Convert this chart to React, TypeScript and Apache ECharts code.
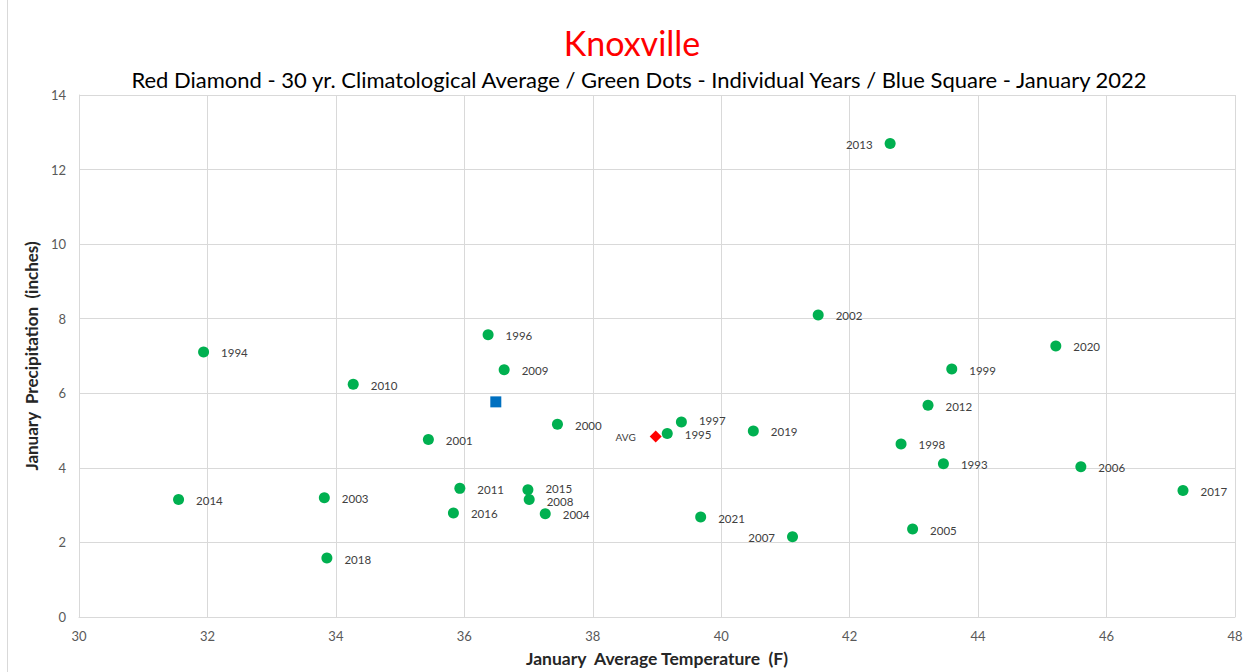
import React, { useEffect, useRef } from "react";
import * as echarts from "echarts";

const years = ["2013", "2002", "2020", "1999", "2012", "1998", "1993", "2006", "2017", "2005", "2007", "2021", "2019", "1997", "1995", "2000", "2009", "1996", "2001", "2010", "1994", "2014", "2003", "2018", "2011", "2016", "2015", "2008", "2004"];
const temps = [42.63, 41.51, 45.21, 43.59, 43.22, 42.80, 43.46, 45.60, 47.19, 42.98, 41.11, 39.68, 40.50, 39.38, 39.16, 37.45, 36.62, 36.37, 35.44, 34.27, 31.94, 31.55, 33.82, 33.86, 35.93, 35.83, 36.99, 37.01, 37.26];
const precips = [12.70, 8.10, 7.27, 6.65, 5.68, 4.64, 4.11, 4.03, 3.39, 2.36, 2.15, 2.68, 4.99, 5.23, 4.92, 5.17, 6.63, 7.57, 4.76, 6.24, 7.11, 3.15, 3.20, 1.58, 3.45, 2.79, 3.41, 3.15, 2.77];
const labelLeftYears = ["2013", "2007"];
const avgPoint = [38.98, 4.84];
const currentPoint = [36.49, 5.77];
const xTicks = { min: 30, max: 48, interval: 2 };
const yTicks = { min: 0, max: 14, interval: 2 };

export default function App() {
  const ref = useRef<HTMLDivElement>(null);
  useEffect(() => {
    document.body.style.margin = "0";
    const chart = echarts.init(ref.current!, undefined, { renderer: "svg" });
    const font = "Lato, 'Open Sans', sans-serif";
    const labelOffsets: Record<string, number[]> = {
      "2015": [0, -1],
      "2008": [0, 2],
      "1997": [0, -1],
      "1995": [0, 1],
    };
    const yearData = years.map((y, i) => ({
      value: [temps[i], precips[i]],
      name: y,
      label: {
        position: labelLeftYears.includes(y) ? "left" : "right",
        distance: 12,
        offset: labelOffsets[y] || [0, 1],
      },
    }));
    chart.setOption({
      animation: false,
      backgroundColor: "#ffffff",
      textStyle: { fontFamily: font },
      title: [
        {
          text: "Knoxville",
          left: 627,
          textAlign: "center",
          top: 20,
          textStyle: { color: "#ff0000", fontSize: 34, fontWeight: "normal", fontFamily: font },
        },
        {
          text: "Red Diamond - 30 yr. Climatological Average / Green Dots - Individual Years / Blue Square - January 2022",
          left: 634,
          textAlign: "center",
          top: 63,
          textStyle: { color: "#000000", fontSize: 22, fontWeight: "normal", fontFamily: font },
        },
      ],
      graphic: [
        {
          type: "line",
          shape: { x1: 7.5, y1: 0, x2: 7.5, y2: 672 },
          style: { stroke: "#d9d9d9", lineWidth: 1 },
        },
      ],
      grid: { left: 79, right: 16, top: 95, bottom: 52 },
      xAxis: {
        type: "value",
        min: xTicks.min,
        max: xTicks.max,
        interval: xTicks.interval,
        name: "January  Average Temperature  (F)",
        nameLocation: "middle",
        nameGap: 32,
        nameTextStyle: { fontSize: 17.5, fontWeight: "bold", color: "#262626", fontFamily: font },
        axisLine: { show: true, lineStyle: { color: "#d9d9d9" } },
        axisTick: { show: false },
        splitLine: { show: true, lineStyle: { color: "#d9d9d9" } },
        axisLabel: { color: "#595959", fontSize: 13, margin: 12, fontFamily: font },
      },
      yAxis: {
        type: "value",
        min: yTicks.min,
        max: yTicks.max,
        interval: yTicks.interval,
        name: "January  Precipitation  (inches)",
        nameLocation: "middle",
        nameGap: 33,
        nameTextStyle: { fontSize: 17, fontWeight: "bold", color: "#262626", fontFamily: font },
        axisLine: { show: true, lineStyle: { color: "#d9d9d9" } },
        axisTick: { show: false },
        splitLine: { show: true, lineStyle: { color: "#d9d9d9" } },
        axisLabel: { color: "#595959", fontSize: 13, margin: 13, fontFamily: font },
      },
      series: [
        {
          type: "scatter",
          name: "Years",
          symbol: "circle",
          symbolSize: 11,
          itemStyle: { color: "#00b050", opacity: 1 },
          data: yearData,
          label: {
            show: true,
            formatter: (p: any) => p.name,
            color: "#404040",
            fontSize: 11.5,
            lineHeight: 10,
            fontFamily: font,
          },
        },
        {
          type: "scatter",
          name: "AVG",
          symbol: "diamond",
          symbolSize: 12,
          itemStyle: { color: "#ff0000", opacity: 1 },
          data: [{ value: avgPoint, name: "AVG" }],
          label: {
            show: true,
            position: "left",
            distance: 14,
            formatter: "AVG",
            color: "#404040",
            fontSize: 10,
            lineHeight: 10,
            fontFamily: font,
          },
        },
        {
          type: "scatter",
          name: "January 2022",
          symbol: "rect",
          symbolSize: 11,
          itemStyle: { color: "#0070c0", opacity: 1 },
          data: [currentPoint],
        },
      ],
    });
    return () => chart.dispose();
  }, []);
  return <div ref={ref} style={{ width: 1251, height: 672 }} />;
}
